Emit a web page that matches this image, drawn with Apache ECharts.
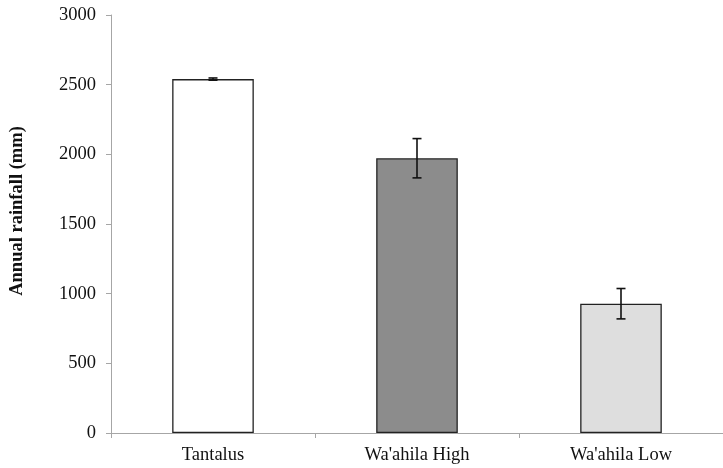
<!DOCTYPE html>
<html>
<head>
<meta charset="utf-8">
<script src="https://cdn.jsdelivr.net/npm/echarts@6/dist/echarts.min.js"></script>
<style>
  html, body { margin: 0; padding: 0; background: #fff; }
  #chart { width: 723px; height: 468px; }
</style>
</head>
<body>
<div id="chart"></div>
<script>
// Annual rainfall at three sites, mean ± error
const sites = ['Tantalus', "Wa'ahila High", "Wa'ahila Low"];
const rainfall = [2540, 1972, 928];
const rainfallErr = [8, 141, 109];
const barColors = ['#ffffff', '#8c8c8c', '#dedede'];
const yTicks = { min: 0, max: 3000, interval: 500 };

const serif = '"Liberation Serif", "Times New Roman", serif';
const axisGray = '#a6a6a6';

const chart = echarts.init(document.getElementById('chart'));

chart.setOption({
  animation: false,
  backgroundColor: '#ffffff',
  grid: { left: 110.5, right: -5.5, top: 15, bottom: 35, containLabel: false },
  xAxis: {
    type: 'category',
    data: sites,
    axisLine: { lineStyle: { color: axisGray, width: 1 } },
    axisTick: { show: true, alignWithLabel: false, length: 5, lineStyle: { color: axisGray } },
    axisLabel: { color: '#111', fontFamily: serif, fontSize: 18.5, margin: 13 }
  },
  yAxis: {
    type: 'value',
    min: yTicks.min,
    max: yTicks.max,
    interval: yTicks.interval,
    name: 'Annual rainfall (mm)',
    nameLocation: 'middle',
    nameGap: 84,
    nameTextStyle: { color: '#111', fontFamily: serif, fontSize: 18.5, fontWeight: 'bold', padding: [0, 0, 0, 26] },
    axisLine: { show: true, lineStyle: { color: axisGray, width: 1 } },
    axisTick: { show: true, length: 5, lineStyle: { color: axisGray } },
    axisLabel: {
      color: '#111', fontFamily: serif, fontSize: 18.5, margin: 15,
      formatter: (v) => String(v)
    },
    splitLine: { show: false }
  },
  series: [
    {
      type: 'bar',
      barWidth: '40%',
      data: rainfall.map((v, i) => ({
        value: v,
        itemStyle: { color: barColors[i], borderColor: '#222', borderWidth: 1.3 }
      }))
    },
    {
      type: 'custom',
      z: 10,
      data: rainfall.map((v, i) => [i, v - rainfallErr[i], v + rainfallErr[i]]),
      renderItem: function (params, api) {
        const lo = api.coord([api.value(0), api.value(1)]);
        const hi = api.coord([api.value(0), api.value(2)]);
        const x = lo[0];
        const half = 4.5;
        const style = { stroke: '#111', lineWidth: 1.6 };
        return {
          type: 'group',
          children: [
            { type: 'line', shape: { x1: x, y1: hi[1], x2: x, y2: lo[1] }, style: style },
            { type: 'line', shape: { x1: x - half, y1: hi[1], x2: x + half, y2: hi[1] }, style: style },
            { type: 'line', shape: { x1: x - half, y1: lo[1], x2: x + half, y2: lo[1] }, style: style }
          ]
        };
      }
    }
  ]
});
</script>
</body>
</html>
